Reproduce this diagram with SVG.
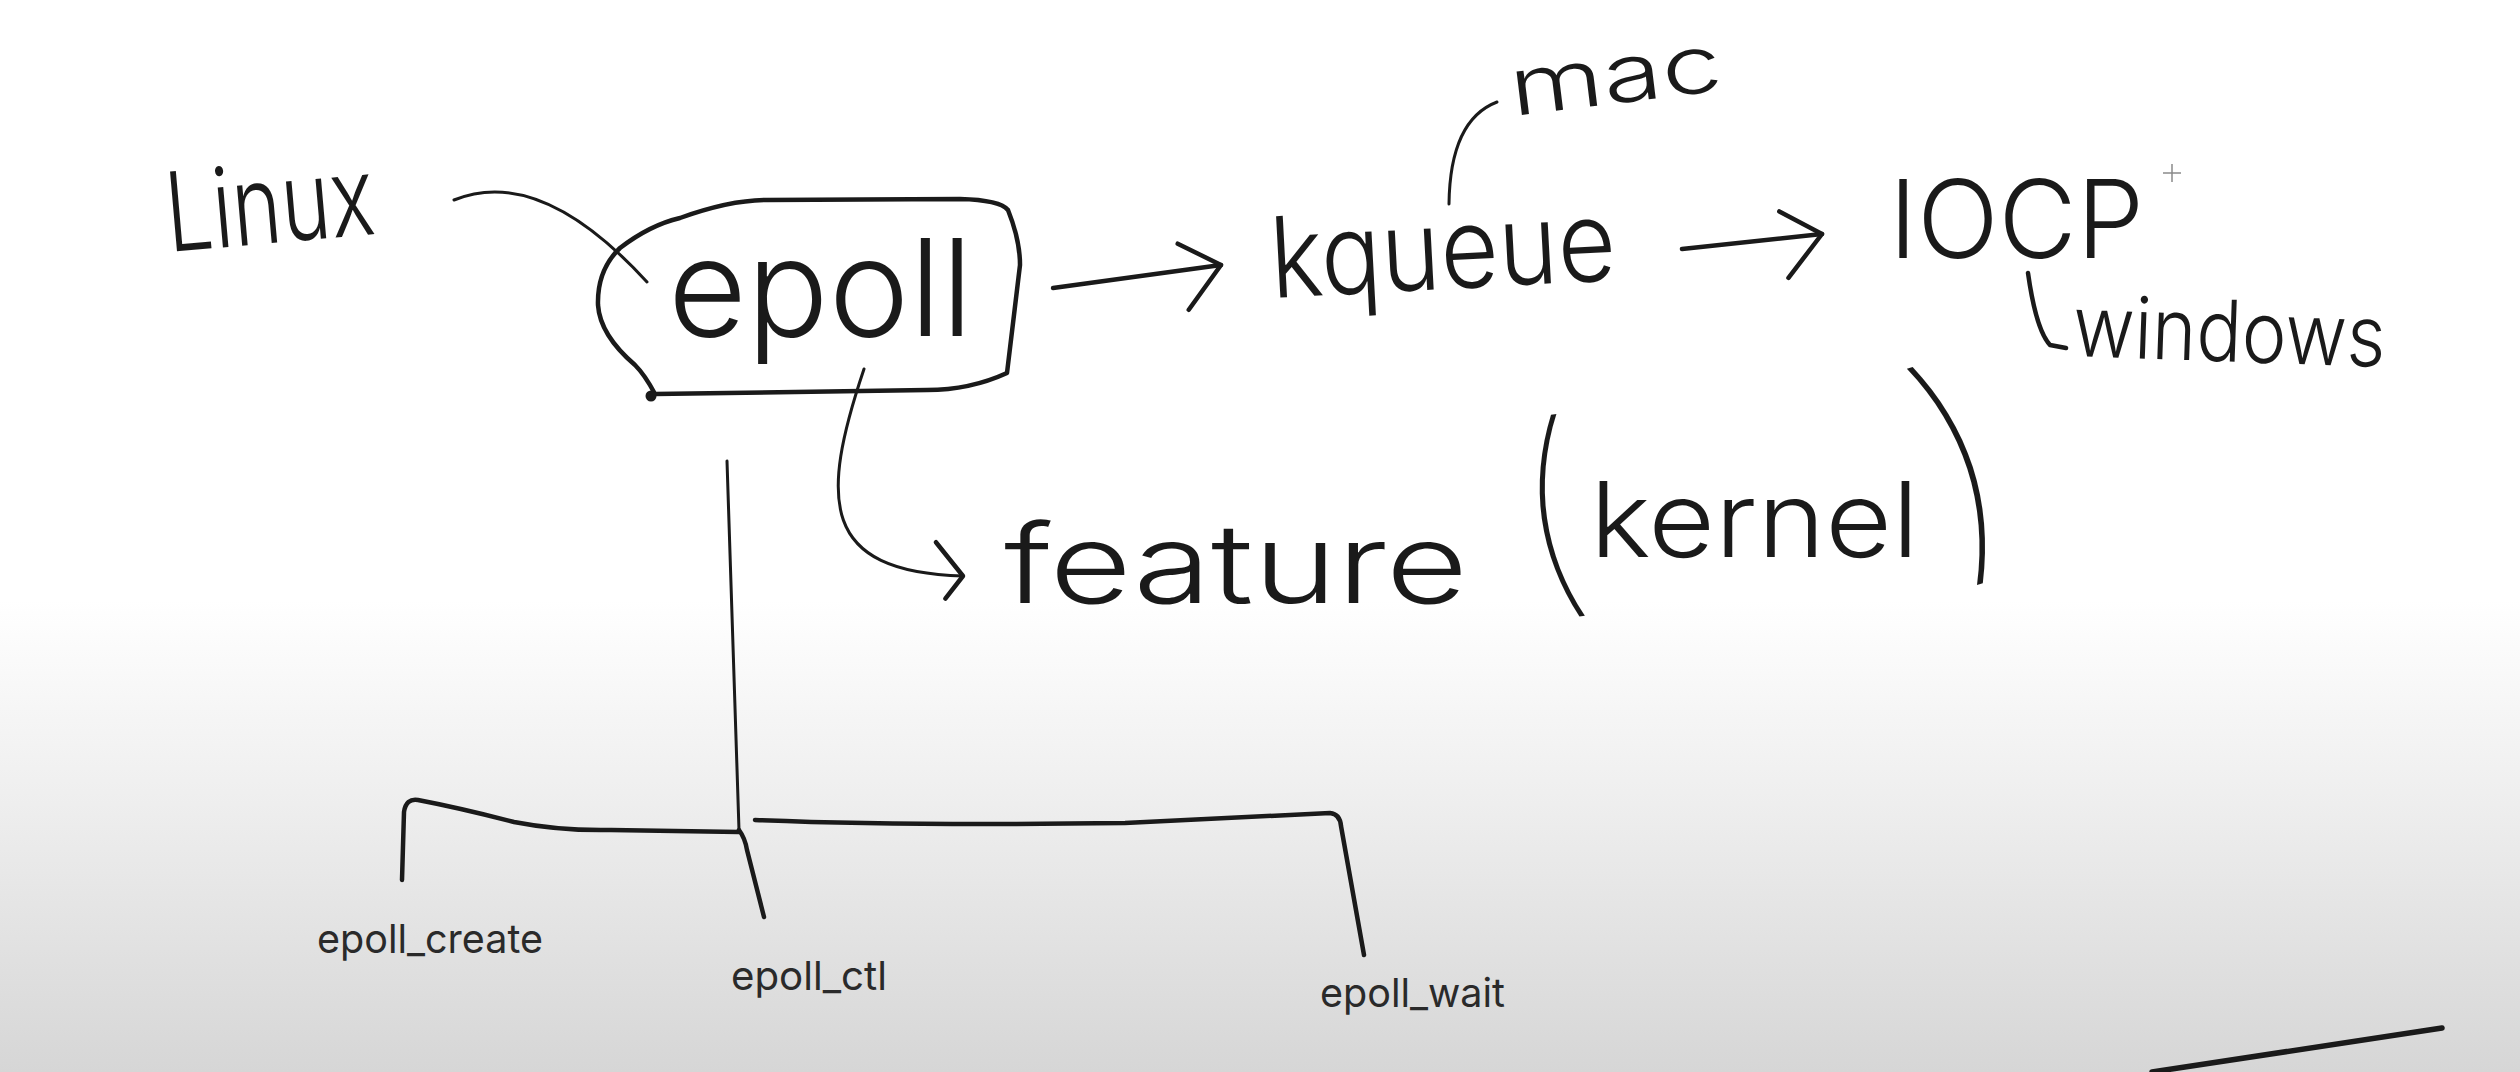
<svg xmlns="http://www.w3.org/2000/svg" width="2520" height="1072" viewBox="0 0 2520 1072">
  <defs>
    <linearGradient id="bgGrad" x1="0" y1="0" x2="0" y2="1072" gradientUnits="userSpaceOnUse">
      <stop offset="0" stop-color="#ffffff"/>
      <stop offset="0.56" stop-color="#ffffff"/>
      <stop offset="0.75" stop-color="#eeeeee"/>
      <stop offset="1" stop-color="#d6d6d6"/>
    </linearGradient>
    <marker id="ah" viewBox="-60 -60 70 120" refX="0" refY="0" markerWidth="70" markerHeight="120" markerUnits="userSpaceOnUse" orient="auto" overflow="visible">
      <path d="M -40 -27 L 0 0 L -38 40" fill="none" stroke="#1a1a1a" stroke-width="4.5" stroke-linecap="round" stroke-linejoin="round"/>
    </marker>
    <marker id="ahSmall" viewBox="-40 -40 50 80" refX="0" refY="0" markerWidth="50" markerHeight="80" markerUnits="userSpaceOnUse" orient="auto" overflow="visible">
      <path d="M -28 -33 L 0 0 L -17 23" fill="none" stroke="#1a1a1a" stroke-width="4.5" stroke-linecap="round" stroke-linejoin="round"/>
    </marker>
    <style>
      .hw { font-family: "Inter", "Lato", "Noto Sans", sans-serif; font-weight: 300; fill: #1a1a1a; }
      .par { font-weight: 100; }
      .lbl { font-family: "Inter", "Liberation Sans", sans-serif; font-weight: 400; fill: #2a2a2a; font-size: 40px; }
      .ln { fill: none; stroke: #1a1a1a; stroke-linecap: round; stroke-linejoin: round; }
      .w3 { stroke-width: 3; }
      .w4 { stroke-width: 4.5; }
      .w5 { stroke-width: 5.5; }
    </style>
  </defs>

  <rect id="background" x="0" y="0" width="2520" height="1072" fill="url(#bgGrad)"/>

  <g id="connectors">
    <path id="c-linux-epoll" class="ln w3" d="M 454 200 Q 540 165 647 282"/>
    <path id="c-epoll-kqueue" class="ln w4" d="M 1053 288 L 1221 265" marker-end="url(#ah)"/>
    <path id="c-kqueue-mac" class="ln w3" d="M 1449 204 Q 1450 120 1497 102"/>
    <path id="c-kqueue-iocp" class="ln w4" d="M 1682 249 L 1822 234" marker-end="url(#ah)"/>
    <path id="c-iocp-windows" class="ln w4" d="M 2028 273 Q 2036 330 2050 345 L 2066 348"/>
    <path id="c-epoll-feature" class="ln w3" d="M 864 369 C 820 500, 820 572, 963 576" marker-end="url(#ahSmall)"/>
    <path id="c-trunk" class="ln w3" d="M 727 461 L 739 830"/>
    <path id="c-to-ctl" class="ln w4" d="M 739 830 Q 745 838 747 850 L 764 917"/>
    <path id="c-to-create" class="ln w4" d="M 402 880 L 404 812 Q 406 798 418 800 Q 460 808 514 822 Q 560 831 611 830 L 739 832"/>
    <path id="c-to-wait" class="ln w4" d="M 755 820 Q 900 826 1125 823 L 1330 813 Q 1340 814 1341 826 L 1364 955"/>
  </g>

  <g id="node-linux">
    <text class="hw" x="169" y="252" font-size="110" textLength="209" lengthAdjust="spacingAndGlyphs" transform="rotate(-5 169 252)">Linux</text>
  </g>

  <g id="node-epoll">
    <path class="ln w4" d="M 767 200 L 960 199 Q 1000 200 1008 210 Q 1020 240 1020 265 L 1007 373 Q 970 390 927 390 L 655 394 Q 645 375 635 365 Q 600 335 598 305 Q 597 270 620 248 Q 650 225 680 218 Q 730 200 767 200 Z"/>
    <circle cx="651" cy="396" r="5.5" fill="#1a1a1a"/>
    <text class="hw" x="668" y="336" font-size="135" textLength="305" lengthAdjust="spacingAndGlyphs">epoll</text>
  </g>

  <g id="node-kqueue">
    <text class="hw" x="1272" y="298" font-size="112" textLength="346" lengthAdjust="spacingAndGlyphs" transform="rotate(-3 1272 298)">kqueue</text>
  </g>

  <g id="node-mac">
    <text class="hw" x="1513" y="116" font-size="80" textLength="213" lengthAdjust="spacingAndGlyphs" transform="rotate(-7 1513 116)">mac</text>
  </g>

  <g id="node-iocp">
    <text class="hw" x="1889" y="258" font-size="108" textLength="255" lengthAdjust="spacingAndGlyphs">IOCP</text>
  </g>

  <g id="node-windows">
    <text class="hw" x="2072" y="356" font-size="85" textLength="313" lengthAdjust="spacingAndGlyphs" transform="rotate(2 2072 356)">windows</text>
  </g>

  <g id="node-feature">
    <text class="hw" x="1004" y="603" font-size="110" textLength="464" lengthAdjust="spacingAndGlyphs">feature</text>
  </g>

  <g id="node-kernel">
    <text class="hw"><tspan class="par" x="1526" y="593" font-size="224" rotate="-8">(</tspan><tspan x="1590" y="557" font-size="105" textLength="329" lengthAdjust="spacingAndGlyphs">kernel</tspan><tspan class="par" x="1950" y="558" font-size="250" rotate="-18">)</tspan></text>
  </g>

  <g id="node-epoll-create">
    <text class="lbl" x="317" y="953" textLength="226" lengthAdjust="spacingAndGlyphs">epoll_create</text>
  </g>
  <g id="node-epoll-ctl">
    <text class="lbl" x="731" y="990" textLength="156" lengthAdjust="spacingAndGlyphs">epoll_ctl</text>
  </g>
  <g id="node-epoll-wait">
    <text class="lbl" x="1320" y="1007" textLength="185" lengthAdjust="spacingAndGlyphs">epoll_wait</text>
  </g>

  <g id="misc">
    <path class="ln w5" d="M 2152 1072 L 2442 1028"/>
    <path d="M 2172 164 L 2172 182 M 2163 173 L 2181 173" stroke="#8a8a8a" stroke-width="1.5" fill="none"/>
  </g>
</svg>
